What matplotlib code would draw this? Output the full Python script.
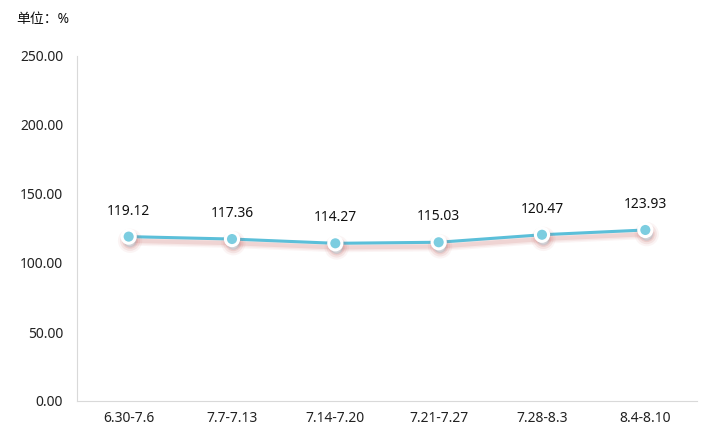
import matplotlib
matplotlib.use("Agg")
import matplotlib.pyplot as plt
import matplotlib.patheffects as pe

plt.rcParams['font.family'] = ['Noto Sans', 'Noto Sans CJK SC', 'DejaVu Sans']

categories = ["6.30-7.6", "7.7-7.13", "7.14-7.20", "7.21-7.27", "7.28-8.3", "8.4-8.10"]
values = [119.12, 117.36, 114.27, 115.03, 120.47, 123.93]
yticks = [0, 50, 100, 150, 200, 250]

fig = plt.figure(figsize=(7.11, 4.37), dpi=100)
ax = fig.add_axes([77/711, 36/437, 620/711, 345/437])

x = list(range(len(categories)))
line_color = '#5bbfd9'

# soft shadow made from several faint strokes
shadow_line = [pe.Stroke(linewidth=w, foreground='#c0504d', alpha=a, offset=(1, -3))
               for w, a in [(7, 0.06), (5, 0.08), (3, 0.12)]]
ax.plot(x, values, color=line_color, lw=2.2, zorder=3,
        path_effects=shadow_line + [pe.Normal()])
shadow_pt = [pe.Stroke(linewidth=w, foreground='#c0504d', alpha=a, offset=(1, -3))
             for w, a in [(8, 0.06), (5, 0.1), (2, 0.14)]]
ax.scatter(x, values, s=90, facecolor='#7ccde0', edgecolor='white', linewidth=2.2, zorder=4,
           path_effects=shadow_pt + [pe.Normal()])

for xi, v in zip(x, values):
    ax.annotate(f"{v:.2f}", (xi, v), xytext=(0, 13), textcoords='offset points',
                ha='center', va='bottom', fontsize=10, color='#111111')

ax.set_xlim(-0.5, len(categories) - 0.5)
ax.set_ylim(0, 250)
ax.set_yticks(yticks)
ax.set_yticklabels([f"{t:.2f}" for t in yticks], fontsize=10, color='#222222')
ax.set_xticks(x)
ax.set_xticklabels(categories, fontsize=10, color='#222222')
ax.tick_params(axis='both', length=0, pad=7)
ax.tick_params(axis='y', pad=10)

for s in ['top', 'right']:
    ax.spines[s].set_visible(False)
ax.spines['left'].set_color('#d9d9d9')
ax.spines['bottom'].set_color('#d9d9d9')

fig.text(16/711, 1 - 19/437, "单位：%", fontsize=10, color='#111111', va='center', ha='left')

fig.savefig("out.png", dpi=100)
